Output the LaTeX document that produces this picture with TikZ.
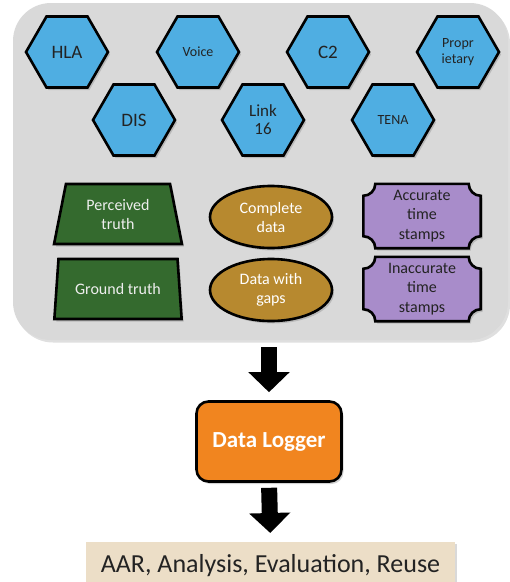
\documentclass[tikz,border=0pt]{standalone}
\usepackage{fontspec}
\setmainfont{Carlito}
\usetikzlibrary{shapes.geometric,shadows,arrows.meta,calc}
\pgfdeclarelayer{back}
\pgfsetlayers{back,main}
\definecolor{hexblue}{RGB}{79,174,226}
\definecolor{truthgreen}{RGB}{52,106,46}
\definecolor{datagold}{RGB}{183,137,47}
\definecolor{stamppurple}{RGB}{168,140,202}
\definecolor{loggerorange}{RGB}{241,133,31}
\definecolor{usetan}{RGB}{236,222,199}
\definecolor{darkink}{RGB}{35,35,35}
\definecolor{lightink}{RGB}{238,238,238}
\newcommand\plaqueframe[1]{
  \begin{pgfonlayer}{back}
  \draw[line width=2.6pt, fill=stamppurple, drop shadow={shadow xshift=2pt, shadow yshift=-2.5pt, opacity=.35}]
    ($(#1.north west)+(12pt,0pt)$) -- ($(#1.north east)+(-12pt,0pt)$)
    .. controls ($(#1.north east)+(-12pt,-6.6pt)$) and ($(#1.north east)+(-6.6pt,-12pt)$) .. ($(#1.north east)+(0pt,-12pt)$)
    -- ($(#1.south east)+(0pt,12pt)$)
    .. controls ($(#1.south east)+(-6.6pt,12pt)$) and ($(#1.south east)+(-12pt,6.6pt)$) .. ($(#1.south east)+(-12pt,0pt)$)
    -- ($(#1.south west)+(12pt,0pt)$)
    .. controls ($(#1.south west)+(12pt,6.6pt)$) and ($(#1.south west)+(6.6pt,12pt)$) .. ($(#1.south west)+(0pt,12pt)$)
    -- ($(#1.north west)+(0pt,-12pt)$)
    .. controls ($(#1.north west)+(6.6pt,-12pt)$) and ($(#1.north west)+(12pt,-6.6pt)$) .. cycle;
  \end{pgfonlayer}
}

\begin{document}
\begin{tikzpicture}[x=1pt, y=-1pt,
  shade/.style = {drop shadow={shadow xshift=2pt, shadow yshift=-2.5pt, opacity=.35}},
  hexa/.style = {regular polygon, regular polygon sides=6, minimum size=82pt, inner sep=0pt, draw, line width=2.6pt, fill=hexblue, text=darkink, align=center, font=\fontsize{19}{20}\selectfont, shade},
  small/.style = {font=\fontsize{14}{16}\selectfont},
  truth/.style = {trapezium, trapezium stretches=true, trapezium angle=77, minimum width=128pt, minimum height=60pt, inner sep=1pt, draw, line width=2.6pt, fill=truthgreen, text=lightink, align=center, font=\fontsize{16}{19}\selectfont, shade},
  data/.style = {ellipse, minimum width=122pt, minimum height=62pt, inner sep=0pt, draw, line width=2.6pt, fill=datagold, text=white, align=center, font=\fontsize{16}{19}\selectfont, shade},
  stamp/.style = {minimum width=117pt, minimum height=64pt, inner sep=0pt, text=darkink, align=center, font=\fontsize{16}{19.5}\selectfont},
  bigarrow/.style = {line width=16pt, -{Triangle[length=20pt, width=40pt]}}]
	\path[use as bounding box, clip] (0,0) rectangle (510,582);
	\begin{pgfonlayer}{back}
	\node[rounded corners=38pt, fill=gray!30, minimum width=495pt, minimum height=337pt, drop shadow={shadow xshift=2pt, shadow yshift=-2.5pt, opacity=.25}] (pool) at (260.5,171.5){};
	\end{pgfonlayer}
	% message formats
	\node[hexa] (hla) at (67,52){HLA};
	\node[hexa, small] (voice) at (198,52){Voice};
	\node[hexa] (c2) at (328,52){C2};
	\node[hexa, small] (propr) at (458,52){Propr\\ietary};
	\node[hexa] (dis) at (134,120){DIS};
	\node[hexa, font=\fontsize{17}{18}\selectfont] (link) at (263,120){Link\\16};
	\node[hexa, small] (tena) at (393,120){TENA};
	% truth, data, time stamps
	\node[truth] (perceived) at (118,214){Perceived\\truth};
	\node[truth] (ground) at (118,289){Ground truth};
	\node[data] (complete) at (271,217){Complete\\data};
	\node[data] (gaps) at (271,290){Data with\\gaps};
	\node[stamp] (accurate) at (422,216){Accurate\\time\\stamps};
	\node[stamp] (inaccurate) at (422,289){Inaccurate\\time\\stamps};
	\plaqueframe{accurate}
	\plaqueframe{inaccurate}
	% logger and use
	\node[draw, line width=2.6pt, rounded corners=12pt, fill=loggerorange, minimum width=145pt, minimum height=80pt, text=white, font=\fontsize{23}{26}\bfseries\selectfont, shade] (logger) at (269,441.5){Data Logger};
	\node[fill=usetan, minimum width=369pt, inner ysep=3pt, text height=27pt, text depth=20pt, font=\fontsize{26}{28}\selectfont, text=darkink, anchor=north, drop shadow={shadow xshift=2pt, shadow yshift=-2pt, opacity=.3}] (use) at (270.5,542){AAR, Analysis, Evaluation, Reuse};
	\draw[bigarrow, shorten <=7pt, shorten >=8pt] (logger.north |- pool.south) -- (logger.north);
	\draw[bigarrow, shorten <=5pt, shorten >=9pt] (logger.south) -- (use.north);
\end{tikzpicture}
\end{document}
